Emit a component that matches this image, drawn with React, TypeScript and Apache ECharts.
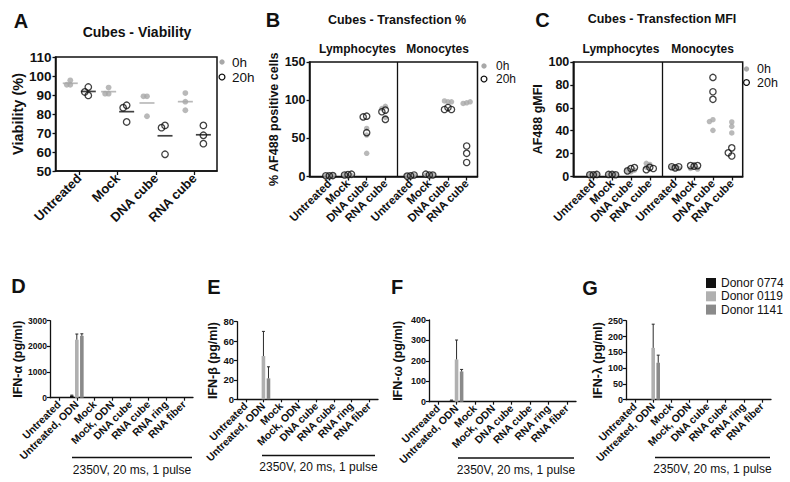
import React, { useEffect, useRef } from 'react';
import * as echarts from 'echarts';

const FONT = 'Arial, "Liberation Sans", Helvetica, sans-serif';
const INK = '#111111';
const DOT_GRAY = '#a8a8a8';

// ---------- Panel A: viability ----------
const viabilityCats = ['Untreated', 'Mock', 'DNA cube', 'RNA cube'];
const viability0h = [[97.7, 95.4, 95.4], [93.9, 90.7, 90.7], [89.3, 89.3, 78.8], [91.0, 86.5, 82.0]];
const viability20h = [[94.2, 89.8, 91.6], [84.6, 83.3, 75.8], [74.0, 72.8, 58.8], [74.0, 68.8, 64.4]];

// ---------- Panel B: transfection % ----------
const cubeCats = ['Untreated', 'Mock', 'DNA cube', 'RNA cube'];
const transLymph0h = [[0.5, 0.5, 0.8], [1.0, 1.5, 1.0], [63.0, 54.3, 30.4], [92.0, 89.0, 77.4]];
const transLymph20h = [[1.0, 1.0, 1.2], [2.5, 2.0, 3.0], [79.0, 78.0, 57.4], [87.0, 84.8, 74.8]];
const transMono0h = [[0.5, 0.5, 1.0], [1.0, 1.5, 2.0], [97.8, 99.0, 97.8], [96.5, 95.7, 97.8]];
const transMono20h = [[1.0, 0.5, 2.0], [2.0, 3.0, 2.0], [90.4, 87.8, 87.8], [40.0, 30.4, 18.3]];

// ---------- Panel C: MFI ----------
const mfiLymph0h = [[1.5, 1.5, 1.5], [1.5, 1.5, 1.5], [4.0, 5.0, 5.5], [10.5, 11.5, 8.0]];
const mfiLymph20h = [[1.5, 1.5, 1.8], [1.8, 1.8, 1.5], [6.9, 4.9, 7.8], [8.0, 6.0, 7.0]];
const mfiMono0h = [[7.5, 8.0, 7.0], [9.0, 7.0, 6.5], [49.6, 40.3, 48.0], [38.0, 47.6, 43.8]];
const mfiMono20h = [[7.5, 8.5, 8.5], [9.0, 9.5, 9.5], [86.5, 74.0, 67.4], [17.9, 25.0, 20.7]];

// ---------- Panels D-G: interferons ----------
const ifnCats = ['Untreated', 'Untreated, ODN', 'Mock', 'Mock, ODN', 'DNA cube', 'RNA cube', 'RNA ring', 'RNA fiber'];
const donors = ['Donor 0774', 'Donor 0119', 'Donor 1141'];
const donorColors = ['#111111', '#b0b0b0', '#8a8a8a'];

const ifnAlpha0774 = [0, 80, 0, 0, 0, 0, 0, 0];
const ifnAlpha0119 = [0, 2260, 0, 0, 0, 0, 0, 0];
const ifnAlpha1141 = [0, 2410, 0, 0, 0, 0, 0, 0];
const ifnAlphaSd0774 = [0, 20, 0, 0, 0, 0, 0, 0];
const ifnAlphaSd0119 = [0, 220, 0, 0, 0, 0, 0, 0];
const ifnAlphaSd1141 = [0, 80, 0, 0, 0, 0, 0, 0];

const ifnBeta0774 = [0, 0, 0, 0, 0, 0, 0, 0];
const ifnBeta0119 = [0, 44.6, 0, 0, 0, 0, 0, 0];
const ifnBeta1141 = [0, 21.6, 0, 0, 0, 0, 0, 0];
const ifnBetaSd0774 = [0, 0, 0, 0, 0, 0, 0, 0];
const ifnBetaSd0119 = [0, 25.4, 0, 0, 0, 0, 0, 0];
const ifnBetaSd1141 = [0, 11.9, 0, 0, 0, 0, 0, 0];

const ifnOmega0774 = [0, 6, 0, 0, 0, 0, 0, 0];
const ifnOmega0119 = [0, 207, 0, 0, 0, 0, 0, 0];
const ifnOmega1141 = [0, 148, 0, 0, 0, 0, 0, 0];
const ifnOmegaSd0774 = [0, 2, 0, 0, 0, 0, 0, 0];
const ifnOmegaSd0119 = [0, 95, 0, 0, 0, 0, 0, 0];
const ifnOmegaSd1141 = [0, 10, 0, 0, 0, 0, 0, 0];

const ifnLambda0774 = [0, 0, 0, 0, 0, 0, 0, 0];
const ifnLambda0119 = [0, 164, 0, 0, 0, 0, 0, 0];
const ifnLambda1141 = [0, 117, 0, 0, 0, 0, 0, 0];
const ifnLambdaSd0774 = [0, 0, 0, 0, 0, 0, 0, 0];
const ifnLambdaSd0119 = [0, 75, 0, 0, 0, 0, 0, 0];
const ifnLambdaSd1141 = [0, 24, 0, 0, 0, 0, 0, 0];

// ---------- layout ----------
const GRID_A = { left: 55.5, top: 57, width: 161.5, height: 114 };
const GRID_B = { left: 309.5, top: 62, width: 168, height: 114.5 };
const GRID_C = { left: 573.3, top: 62, width: 169.4, height: 114.5 };
const GRID_D = { left: 50, top: 320.7, width: 143, height: 77 };
const GRID_E = { left: 237, top: 321.7, width: 141, height: 77.6 };
const GRID_F = { left: 429, top: 320, width: 147, height: 81.7 };
const GRID_G = { left: 626, top: 320.7, width: 145, height: 79 };

const A_X = { min: -0.62, max: 3.59, groupShift: 0.235 };
const BC_X = { min: -1.06, max: 7.93, halfShift: 4.35, divider: 3.65 };

const mean = (a: number[]) => a.reduce((s, v) => s + v, 0) / a.length;

function swarm(vals: number[], pxPerY: number, pxPerX: number): number[] {
  const STEP = 3.5;
  const placed: [number, number][] = [];
  return vals.map((v) => {
    const y = v * pxPerY;
    for (let k = 0; k < 14; k++) {
      const s = k === 0 ? 0 : (k % 2 === 1 ? -Math.ceil(k / 2) : Math.ceil(k / 2));
      const x = s * STEP;
      if (placed.every(([px, py]) => Math.hypot(px - x, py - y) >= STEP - 0.01)) {
        placed.push([x, y]);
        return x / pxPerX;
      }
    }
    return 0;
  });
}

function scatterXAxis(gridIndex: number, min: number, max: number, positions: number[], names: string[], size: number) {
  const fmt = (v: number) => {
    const k = positions.findIndex((p) => Math.abs(p - v) < 1e-6);
    return k >= 0 ? names[k] : '';
  };
  return {
    type: 'value', gridIndex, min, max,
    axisLine: { show: true, onZero: false, lineStyle: { color: INK, width: 1.5 } },
    axisTick: { show: true, customValues: positions, length: 4, lineStyle: { color: INK, width: 1.3 } },
    axisLabel: {
      show: true, customValues: positions, rotate: 45, margin: 5, fontSize: size, fontWeight: 'bold',
      color: INK, fontFamily: FONT, formatter: fmt,
    },
    splitLine: { show: false },
  };
}

function scatterYAxis(gridIndex: number, min: number, max: number, interval: number, name: string, nameGap: number, size: number, nameSize: number) {
  return {
    type: 'value', gridIndex, min, max, interval, name, nameLocation: 'middle', nameGap,
    nameTextStyle: { fontSize: nameSize, fontWeight: 'bold', color: INK, fontFamily: FONT },
    axisLine: { show: true, onZero: false, lineStyle: { color: INK, width: 1.5 } },
    axisTick: { show: true, length: 3, lineStyle: { color: INK, width: 1.3 } },
    axisLabel: { fontSize: size, fontWeight: 'bold', color: INK, fontFamily: FONT, margin: 4 },
    splitLine: { show: false },
  };
}

function barXAxis(gridIndex: number) {
  return {
    type: 'category', gridIndex, data: ifnCats, boundaryGap: true,
    axisLine: { show: true, lineStyle: { color: INK, width: 1.3 } },
    axisTick: { show: true, alignWithLabel: true, length: 3, lineStyle: { color: INK, width: 1.2 } },
    axisLabel: { interval: 0, rotate: 45, fontSize: 10.5, fontWeight: 'bold', color: INK, fontFamily: FONT, margin: 5 },
    splitLine: { show: false },
  };
}

function barYAxis(gridIndex: number, max: number, interval: number, name: string, nameGap: number, labelSize: number) {
  return {
    type: 'value', gridIndex, min: 0, max, interval, name, nameLocation: 'middle', nameGap,
    nameTextStyle: { fontSize: 12.5, fontWeight: 'bold', color: INK, fontFamily: FONT },
    axisLine: { show: true, lineStyle: { color: INK, width: 1.3 } },
    axisTick: { show: true, length: 3, lineStyle: { color: INK, width: 1.2 } },
    axisLabel: {
      fontSize: labelSize, fontWeight: 'bold', color: INK, fontFamily: FONT, margin: 3,
      formatter: (v: number) => String(v),
    },
    splitLine: { show: false },
  };
}

const BAR_W = 3.6;
const BAR_GAP = 0.4;

function barSeries(gridIndex: number, values: number[][], sds: number[][]) {
  const out: any[] = [];
  values.forEach((vals, d) => {
    out.push({
      name: donors[d], type: 'bar', xAxisIndex: gridIndex, yAxisIndex: gridIndex,
      barWidth: BAR_W, barGap: `${BAR_GAP * 100}%`, itemStyle: { color: donorColors[d] },
      data: vals, z: 2,
    });
  });
  values.forEach((vals, d) => {
    const off = (d - 1) * BAR_W * (1 + BAR_GAP);
    out.push({
      type: 'custom', xAxisIndex: gridIndex, yAxisIndex: gridIndex, silent: true, z: 3,
      data: vals.map((v, i) => [i, v, v + sds[d][i]]),
      renderItem: (_p: any, api: any) => {
        const lo = api.value(1);
        const hi = api.value(2);
        if (!(hi > lo)) return { type: 'group', children: [] };
        const p0 = api.coord([api.value(0), lo]);
        const p1 = api.coord([api.value(0), hi]);
        const x = p0[0] + off;
        const st = { stroke: '#2a2a2a', lineWidth: 1 };
        return {
          type: 'group',
          children: [
            { type: 'line', shape: { x1: x, y1: p0[1], x2: x, y2: p1[1] }, style: st },
            { type: 'line', shape: { x1: x - 1.5, y1: p1[1], x2: x + 1.5, y2: p1[1] }, style: st },
          ],
        };
      },
    });
  });
  return out;
}

function txt(text: string, x: number, y: number, size: number, bold: boolean, align = 'center') {
  return {
    type: 'text', x, y, silent: true,
    style: {
      text, fill: INK, fontSize: size, fontWeight: bold ? 'bold' : 'normal', fontFamily: FONT,
      align, textAlign: align, verticalAlign: 'middle', textVerticalAlign: 'middle',
    },
  };
}

function scatterLegend(mx: number, tx: number, y0: number, y1: number, size: number) {
  return [
    { type: 'circle', silent: true, shape: { cx: mx, cy: y0, r: 2.7 }, style: { fill: DOT_GRAY } },
    { type: 'circle', silent: true, shape: { cx: mx, cy: y1, r: 2.9 }, style: { fill: 'none', stroke: INK, lineWidth: 1.3 } },
    txt('0h', tx, y0, size, false, 'left'),
    txt('20h', tx, y1, size, false, 'left'),
  ];
}

function pulseNote(x1: number, x2: number, y: number, ty: number) {
  return [
    { type: 'line', silent: true, shape: { x1, y1: y, x2, y2: y }, style: { stroke: INK, lineWidth: 1.3 } },
    txt('2350V, 20 ms, 1 pulse', (x1 + x2) / 2, ty, 12, false),
  ];
}

function buildOption() {
  const series: any[] = [];

  // Panel A
  {
    const pxY = GRID_A.height / (110 - 50);
    const pxX = GRID_A.width / (A_X.max - A_X.min);
    const pts0: number[][] = [];
    const pts20: number[][] = [];
    viabilityCats.forEach((_, i) => {
      const o0 = swarm(viability0h[i], pxY, pxX);
      viability0h[i].forEach((v, j) => pts0.push([i - A_X.groupShift + o0[j], v]));
      const o20 = swarm(viability20h[i], pxY, pxX);
      viability20h[i].forEach((v, j) => pts20.push([i + A_X.groupShift + o20[j], v]));
    });
    series.push({
      type: 'scatter', xAxisIndex: 0, yAxisIndex: 0, symbol: 'rect', symbolSize: [15, 1.7], silent: true, z: 2,
      itemStyle: { color: DOT_GRAY }, data: viability0h.map((vals, i) => [i - A_X.groupShift, mean(vals)]),
    });
    series.push({
      type: 'scatter', xAxisIndex: 0, yAxisIndex: 0, symbol: 'rect', symbolSize: [15, 1.7], silent: true, z: 2,
      itemStyle: { color: INK }, data: viability20h.map((vals, i) => [i + A_X.groupShift, mean(vals)]),
    });
    series.push({
      name: '0h', type: 'scatter', xAxisIndex: 0, yAxisIndex: 0, symbol: 'circle', symbolSize: 5.8, z: 3,
      itemStyle: { color: DOT_GRAY }, data: pts0,
    });
    series.push({
      name: '20h', type: 'scatter', xAxisIndex: 0, yAxisIndex: 0, symbol: 'circle', symbolSize: 6.5, z: 4,
      itemStyle: { color: 'rgba(255,255,255,0)', borderColor: INK, borderWidth: 1.3 }, data: pts20,
    });
  }

  // Panels B and C
  const bcPanel = (gi: number, grid: any, yMax: number, l0: number[][], l20: number[][], m0: number[][], m20: number[][]) => {
    const pxY = grid.height / yMax;
    const pxX = grid.width / (BC_X.max - BC_X.min);
    const pts0: number[][] = [];
    const pts20: number[][] = [];
    const halves = [{ s: 0, a: l0, b: l20 }, { s: BC_X.halfShift, a: m0, b: m20 }];
    halves.forEach(({ s, a, b }) => {
      cubeCats.forEach((_, i) => {
        const oa = swarm(a[i], pxY, pxX);
        a[i].forEach((v, j) => pts0.push([s + i + oa[j], v]));
        const ob = swarm(b[i], pxY, pxX);
        b[i].forEach((v, j) => pts20.push([s + i + ob[j], v]));
      });
    });
    series.push({
      name: '0h', type: 'scatter', xAxisIndex: gi, yAxisIndex: gi, symbol: 'circle', symbolSize: 5.5, z: 3,
      itemStyle: { color: DOT_GRAY }, data: pts0,
      markLine: {
        silent: true, symbol: ['none', 'none'], label: { show: false },
        lineStyle: { color: INK, width: 1.3, type: 'solid' }, data: [{ xAxis: BC_X.divider }],
      },
    });
    series.push({
      name: '20h', type: 'scatter', xAxisIndex: gi, yAxisIndex: gi, symbol: 'circle', symbolSize: 6.3, z: 4,
      itemStyle: { color: 'rgba(255,255,255,0)', borderColor: INK, borderWidth: 1.3 }, data: pts20,
    });
  };
  bcPanel(1, GRID_B, 150, transLymph0h, transLymph20h, transMono0h, transMono20h);
  bcPanel(2, GRID_C, 100, mfiLymph0h, mfiLymph20h, mfiMono0h, mfiMono20h);

  // Panels D-G
  series.push(...barSeries(3, [ifnAlpha0774, ifnAlpha0119, ifnAlpha1141], [ifnAlphaSd0774, ifnAlphaSd0119, ifnAlphaSd1141]));
  series.push(...barSeries(4, [ifnBeta0774, ifnBeta0119, ifnBeta1141], [ifnBetaSd0774, ifnBetaSd0119, ifnBetaSd1141]));
  series.push(...barSeries(5, [ifnOmega0774, ifnOmega0119, ifnOmega1141], [ifnOmegaSd0774, ifnOmegaSd0119, ifnOmegaSd1141]));
  series.push(...barSeries(6, [ifnLambda0774, ifnLambda0119, ifnLambda1141], [ifnLambdaSd0774, ifnLambdaSd0119, ifnLambdaSd1141]));

  const bcTicks = [...cubeCats.map((_, i) => i), ...cubeCats.map((_, i) => i + BC_X.halfShift)];
  const bcNames = [...cubeCats, ...cubeCats];
  const boxGrid = (g: any) => ({ ...g, show: true, borderColor: INK, borderWidth: 1.5, backgroundColor: 'transparent', containLabel: false });
  const plainGrid = (g: any) => ({ ...g, containLabel: false });

  return {
    animation: false,
    backgroundColor: '#ffffff',
    textStyle: { fontFamily: FONT },
    grid: [boxGrid(GRID_A), boxGrid(GRID_B), boxGrid(GRID_C), plainGrid(GRID_D), plainGrid(GRID_E), plainGrid(GRID_F), plainGrid(GRID_G)],
    xAxis: [
      scatterXAxis(0, A_X.min, A_X.max, viabilityCats.map((_, i) => i), viabilityCats, 13),
      scatterXAxis(1, BC_X.min, BC_X.max, bcTicks, bcNames, 11.5),
      scatterXAxis(2, BC_X.min, BC_X.max, bcTicks, bcNames, 11.5),
      barXAxis(3), barXAxis(4), barXAxis(5), barXAxis(6),
    ],
    yAxis: [
      scatterYAxis(0, 50, 110, 10, 'Viability (%)', 25, 13.5, 14.5),
      scatterYAxis(1, 0, 150, 50, '% AF488 positive cells', 20, 12.5, 12.5),
      scatterYAxis(2, 0, 100, 20, 'AF488 gMFI', 19, 12.5, 12.5),
      barYAxis(3, 3000, 1000, 'IFN-α (pg/ml)', 15, 8.5),
      barYAxis(4, 80, 20, 'IFN-β (pg/ml)', 18, 9.5),
      barYAxis(5, 400, 100, 'IFN-ω (pg/ml)', 25, 9),
      barYAxis(6, 250, 50, 'IFN-λ (pg/ml)', 22, 9),
    ],
    legend: {
      data: donors, orient: 'vertical', left: 706, top: 277, itemWidth: 10, itemHeight: 10, itemGap: 1.3,
      padding: 0, icon: 'rect', selectedMode: false,
      textStyle: { fontSize: 12, color: INK, fontFamily: FONT },
    },
    graphic: [
      txt('A', 21, 21, 20, true), txt('B', 273, 20, 20, true), txt('C', 542.5, 20, 20, true),
      txt('D', 18.5, 285.5, 20, true), txt('E', 214, 287, 20, true), txt('F', 397, 287, 20, true), txt('G', 590, 288, 20, true),
      txt('Cubes - Viability', 137, 32, 14, true),
      txt('Cubes - Transfection %', 397, 20, 12.5, true),
      txt('Cubes - Transfection MFI', 662, 19, 12.5, true),
      txt('Lymphocytes', 357.5, 49, 12, true), txt('Monocytes', 437.5, 49, 12, true),
      txt('Lymphocytes', 621, 49, 12, true), txt('Monocytes', 702.5, 49, 12, true),
      ...scatterLegend(222, 232, 62, 77, 13.5),
      ...scatterLegend(484, 496, 66, 79, 12),
      ...scatterLegend(746.5, 757, 69, 82.5, 12.5),
      ...pulseNote(72, 192, 457.5, 469.5),
      ...pulseNote(262, 375, 455.5, 466.5),
      ...pulseNote(458, 574, 458, 470),
      ...pulseNote(655, 770, 457.5, 469),
    ],
    series,
  };
}

export default function App() {
  const ref = useRef<HTMLDivElement>(null);
  useEffect(() => {
    document.body.style.margin = '0';
    if (!ref.current) return;
    const chart = echarts.init(ref.current, null, { renderer: 'svg' });
    chart.setOption(buildOption() as any);
    return () => chart.dispose();
  }, []);
  return <div ref={ref} style={{ width: 790, height: 482 }} />;
}
